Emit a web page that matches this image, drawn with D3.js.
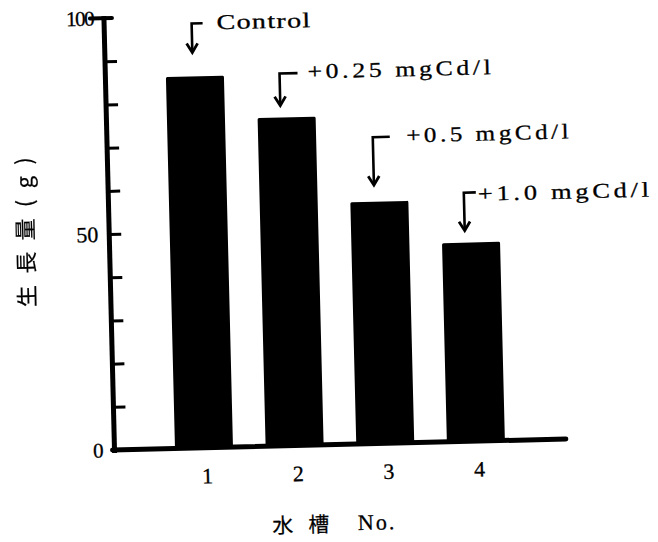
<!DOCTYPE html>
<html><head><meta charset="utf-8">
<script src="https://cdn.jsdelivr.net/npm/d3@7"></script>
<style>html,body{margin:0;padding:0;background:#fff;} svg{display:block;} text{fill:#000;}</style>
</head><body>
<script>
// ---- data ----
const categories = ["1", "2", "3", "4"];
const growth = [86, 76, 56, 46];
const annotationLabels = ["Control", "+0.25 mgCd/l", "+0.5 mgCd/l", "+1.0 mgCd/l"];
const minorTicks = [10, 20, 30, 40, 50, 60, 70, 80, 90];
const labeledTicks = [0, 50, 100];
const yTitle = "生長量(g)";
const xTitleParts = ["水", "槽", "No."];

// ---- layout ----
const W = 658, H = 542;
const svg = d3.select("body").append("svg").attr("width", W).attr("height", H);
const g = svg.append("g").attr("transform", "rotate(-1.4,115,450)");

const x = d3.scaleBand().domain(categories).range([175, 505]).paddingInner(0.36).paddingOuter(0);
const y = d3.scaleLinear().domain([0, 100]).range([450, 18]);
const axisX = 114.5;
const serif = "'Liberation Serif', 'Times New Roman', serif";

// bars
g.selectAll("rect.bar").data(categories).enter().append("rect")
  .attr("class", "bar")
  .attr("x", d => x(d))
  .attr("y", (d, i) => y(growth[i]))
  .attr("width", x.bandwidth())
  .attr("height", (d, i) => y(0) - y(growth[i]))
  .attr("rx", 1.5)
  .attr("fill", "#000");

// minor ticks (pointing inward)
const tickAxis = d3.axisRight(y).tickValues(minorTicks).tickSize(12).tickFormat("");
const ta = g.append("g").attr("transform", `translate(${axisX},0)`).call(tickAxis);
ta.select(".domain").remove();
ta.selectAll(".tick line").attr("stroke", "#000").attr("stroke-width", 3);

// tick labels
const labAxis = d3.axisLeft(y).tickValues(labeledTicks).tickSize(0).tickPadding(11).tickFormat(d3.format("d"));
const la = g.append("g").attr("transform", `translate(${axisX},0)`).call(labAxis);
la.select(".domain").remove();
la.selectAll(".tick text")
  .attr("font-family", serif)
  .attr("font-size", d => d === 50 ? 22 : 21)
  .attr("fill", "#000")
  .attr("stroke", "#000").attr("stroke-width", 0.3)
  .attr("letter-spacing", d => d === 100 ? -1.5 : 0);

// axis lines
g.append("line").attr("x1", axisX).attr("x2", axisX).attr("y1", y(0) + 3).attr("y2", y(100) - 2)
  .attr("stroke", "#000").attr("stroke-width", 5);
g.append("line").attr("x1", axisX - 14).attr("x2", axisX + 8).attr("y1", y(100)).attr("y2", y(100))
  .attr("stroke", "#000").attr("stroke-width", 4).attr("stroke-linecap", "round");
g.append("line").attr("x1", axisX - 2).attr("x2", 566).attr("y1", y(0)).attr("y2", y(0))
  .attr("stroke", "#000").attr("stroke-width", 5).attr("stroke-linecap", "round");

// category labels
g.selectAll("text.cat").data(categories).enter().append("text")
  .attr("class", "cat")
  .attr("x", d => x(d) + x.bandwidth() / 2 + 3)
  .attr("y", y(0) + 28)
  .attr("dominant-baseline", "central")
  .attr("text-anchor", "middle")
  .attr("font-family", serif)
  .attr("font-size", 22)
  .attr("stroke", "#000").attr("stroke-width", 0.3)
  .text(d => d);

// annotations (arrows + labels)
const annLayout = [
  { dx: -2, gap: 24, len: 29, hook: 11, tdx: 25, tdy: 6.5, tw: 95, ls: 1 },
  { dx: -6, gap: 12, len: 32, hook: 18, tdx: 28, tdy: 5.7, tw: 187, ls: 3 },
  { dx: -5, gap: 16.5, len: 48, hook: 17, tdx: 33.5, tdy: 6, tw: 166, ls: 3 },
  { dx: -6, gap: 12, len: 38, hook: 12, tdx: 14, tdy: 8.5, tw: 175, ls: 3 }
];
categories.forEach((c, i) => {
  const L = annLayout[i];
  const ax = x(c) + x.bandwidth() / 2 + L.dx;
  const tip = y(growth[i]) - L.gap;
  const top = tip - L.len;
  g.append("path")
    .attr("d", `M${ax + L.hook},${top} L${ax},${top} L${ax},${tip - 2}`)
    .attr("fill", "none").attr("stroke", "#000").attr("stroke-width", 2.6);
  g.append("path")
    .attr("d", `M${ax - 5.5},${tip - 9} L${ax},${tip} L${ax + 5.5},${tip - 9}`)
    .attr("fill", "none").attr("stroke", "#000").attr("stroke-width", 2.8)
    .attr("stroke-linejoin", "miter");
  g.append("text")
    .attr("x", ax + L.tdx)
    .attr("y", top + L.tdy)
    .attr("font-family", serif)
    .attr("font-size", 21)
    .attr("letter-spacing", L.ls)
    .attr("stroke", "#000").attr("stroke-width", 0.3)
    .attr("textLength", L.tw)
    .attr("lengthAdjust", "spacingAndGlyphs")
    .text(annotationLabels[i]);
});

// y title
g.append("text")
  .attr("transform", "translate(29,230) rotate(-90)")
  .attr("text-anchor", "middle")
  .attr("dominant-baseline", "central")
  .attr("font-family", "'Noto Sans CJK JP', sans-serif")
  .attr("font-size", 22)
  .attr("fill", "#000")
  .attr("stroke", "#000").attr("stroke-width", 0.2)
  .attr("textLength", 150)
  .attr("lengthAdjust", "spacing")
  .style("filter", "grayscale(1)")
  .text(yTitle);

// x title
const xTitlePos = [281, 317, 356];
const xt = g.append("text")
  .attr("y", 528)
  .attr("dominant-baseline", "central")
  .attr("font-size", 20)
  .attr("fill", "#000");
xTitleParts.forEach((t, i) => {
  xt.append("tspan")
    .attr("x", xTitlePos[i])
    .attr("text-anchor", i < 2 ? "middle" : "start")
    .attr("font-family", i < 2 ? "'Noto Sans CJK JP', sans-serif" : serif)
    .attr("font-size", i < 2 ? 21 : 22)
    .attr("letter-spacing", i < 2 ? 0 : 2)
    .attr("stroke", "#000").attr("stroke-width", i < 2 ? 0.2 : 0.3)
    .text(t);
});
</script>
</body></html>
